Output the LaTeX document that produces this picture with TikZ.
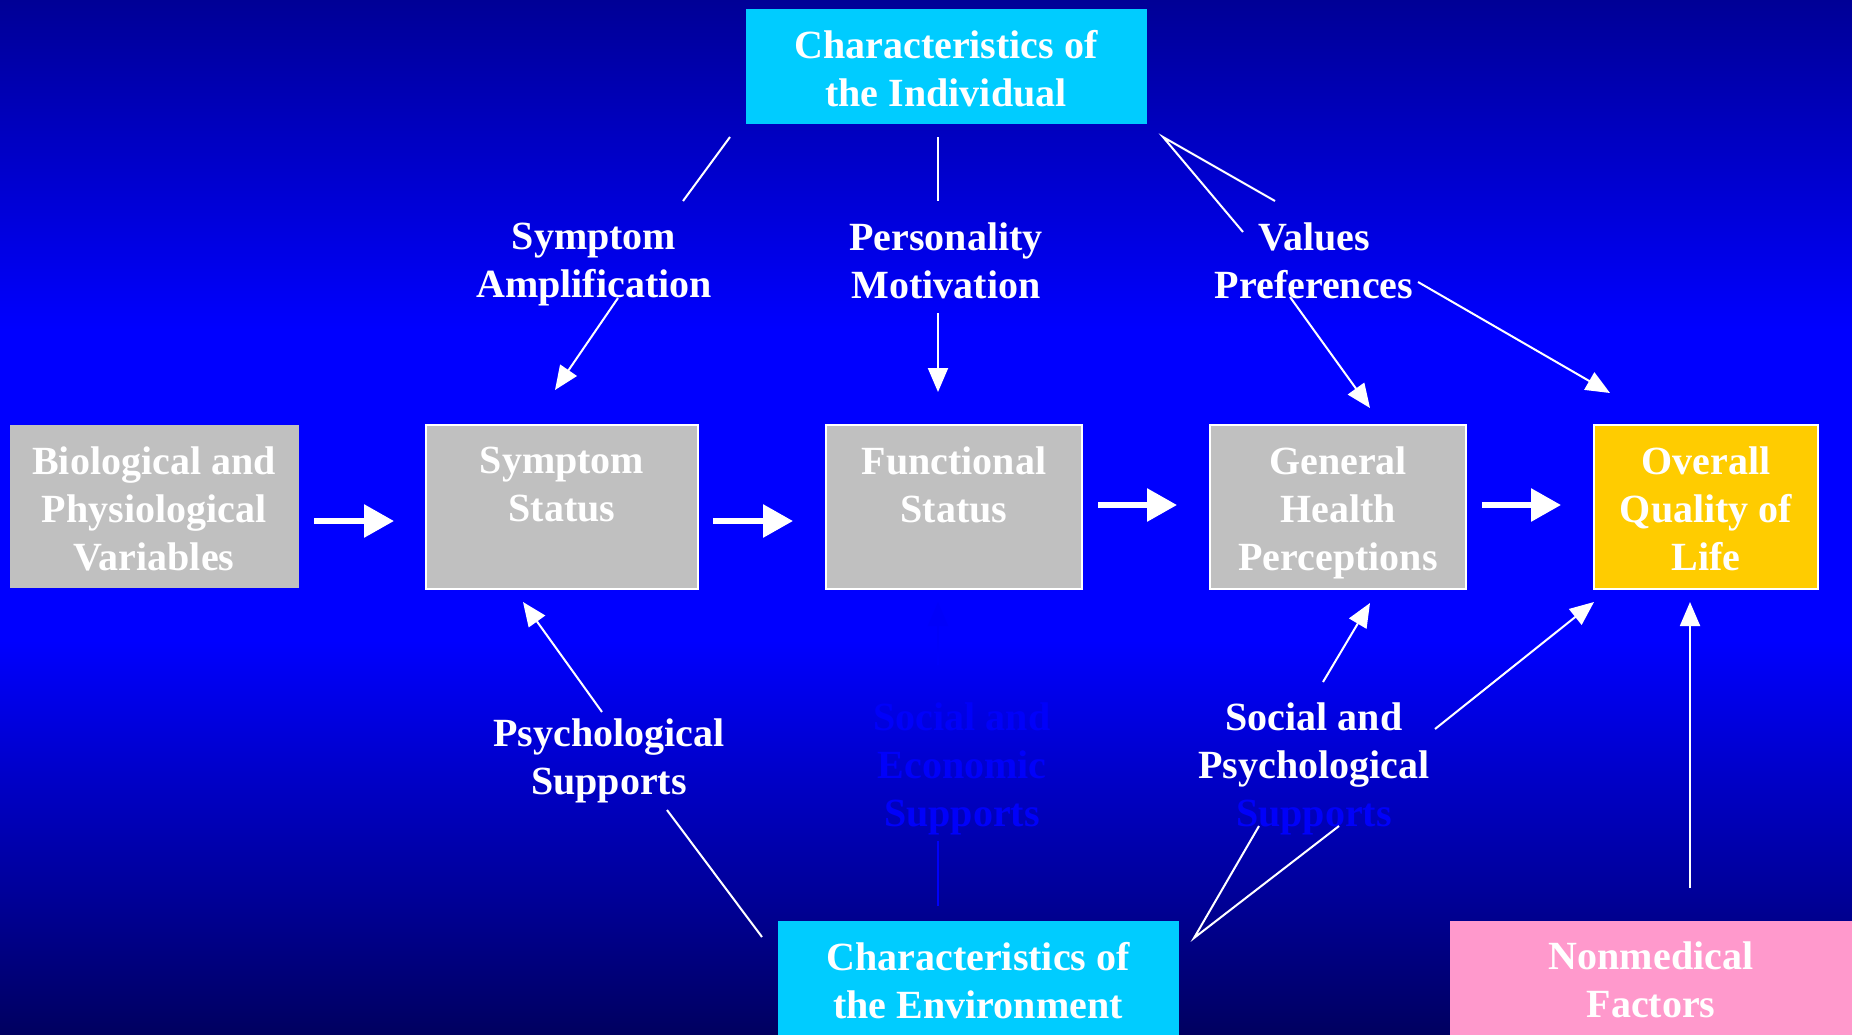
\documentclass[tikz,border=0pt]{standalone}
\usepackage{fontspec}
\setmainfont{Liberation Serif}
\usetikzlibrary{arrows.meta}
\definecolor{bgtop}{RGB}{0,0,150}
\definecolor{bgmid}{RGB}{0,0,255}
\definecolor{bgbot}{RGB}{0,0,96}
\definecolor{boxgray}{RGB}{192,192,192}
\definecolor{boxcyan}{RGB}{0,204,255}
\definecolor{boxyellow}{RGB}{255,204,0}
\definecolor{boxpink}{RGB}{255,153,204}
\definecolor{hidden}{RGB}{0,0,250}
\begin{document}
\begin{tikzpicture}[x=1pt,y=-1pt,
  lbl/.style={text=white,font=\fontsize{40}{48}\selectfont\bfseries,align=center,inner sep=0pt,anchor=north},
  boxbase/.style={anchor=north west,inner sep=0pt,outer sep=0pt},
  graybox/.style={boxbase,fill=boxgray,draw=white,line width=2pt,minimum height=164pt},
  bigarrow/.style={white,line width=6pt,-{Triangle[width=32pt,length=30pt]}},
  thinline/.style={white,line width=2pt},
  thinarrow/.style={thinline,-{Triangle[width=20pt,length=24pt]}},
]
\useasboundingbox (0,0) rectangle (1852,1034);
% background
\shade[top color=bgtop,bottom color=bgmid] (0,0) rectangle (1852,330);
\fill[bgmid] (0,329) rectangle (1852,641);
\shade[top color=bgmid,bottom color=bgbot] (0,640) rectangle (1852,1034);

% boxes
\node[boxbase,fill=boxcyan,minimum width=401pt,minimum height=115pt] (indiv) at (746,9) {};
\node[boxbase,fill=boxcyan,minimum width=401pt,minimum height=120pt] (env) at (778,921) {};
\node[boxbase,fill=boxpink,minimum width=402pt,minimum height=120pt] (nonmed) at (1450,921) {};
\node[graybox,draw=none,minimum width=289pt,minimum height=163pt] (bio) at (10,425) {};
\node[graybox,minimum width=272pt] (sym) at (426,425) {};
\node[graybox,minimum width=256pt] (fun) at (826,425) {};
\node[graybox,minimum width=256pt] (gen) at (1210,425) {};
\node[graybox,fill=boxyellow,minimum width=224pt] (qol) at (1594,425) {};

% box texts
\node[lbl] (indivT) at (946,30) {Characteristics of\\the Individual};
\node[lbl] (envT) at (978,942) {Characteristics of\\the Environment};
\node[lbl] (nonmedT) at (1651,942) {Nonmedical\\Factors};
\node[lbl] (bioT) at (154,447) {Biological and\\Physiological\\Variables};
\node[lbl] (symT) at (562,447) {Symptom\\Status};
\node[lbl] (funT) at (954,447) {Functional\\Status};
\node[lbl] (genT) at (1338,447) {General\\Health\\Perceptions};
\node[lbl] (qolT) at (1706,447) {Overall\\Quality of\\Life};

% labels
\node[lbl] (ampl) at (594,223) {Symptom\\Amplification};
\node[lbl] (pers) at (946,223) {Personality\\Motivation};
\node[lbl] (vals) at (1314,223) {Values\\Preferences};
\node[lbl] (psup) at (609,719) {Psychological\\Supports};
\node[lbl,text=hidden] (sesup) at (962,703) {Social and\\Economic\\Supports};
\node[lbl] (spsup) at (1314,703) {Social and\\Psychological\\\textcolor{hidden}{Supports}};

% big arrows
\coordinate (a1s) at (314,521); \coordinate (a1e) at (394,521);
\coordinate (a2s) at (713,521); \coordinate (a2e) at (793,521);
\coordinate (a3s) at (1098,505); \coordinate (a3e) at (1177,505);
\coordinate (a4s) at (1482,505); \coordinate (a4e) at (1561,505);
\draw[bigarrow] (a1s) -- (a1e);
\draw[bigarrow] (a2s) -- (a2e);
\draw[bigarrow] (a3s) -- (a3e);
\draw[bigarrow] (a4s) -- (a4e);

% top connectors
\coordinate (iA1) at (730,137); \coordinate (iA2) at (683,201);
\coordinate (saA) at (618,298); \coordinate (saB) at (555,390);
\draw[thinline] (iA1) -- (iA2);
\draw[thinarrow] (saA) -- (saB);
\coordinate (iP1) at (938,137); \coordinate (iP2) at (938,201);
\coordinate (pmA) at (938,313); \coordinate (pmB) at (938,392);
\draw[thinline] (iP1) -- (iP2);
\draw[thinarrow] (pmA) -- (pmB);
\coordinate (iV) at (1163,137); \coordinate (iV1) at (1275,201); \coordinate (iV2) at (1243,232);
\draw[thinline] (iV1) -- (iV) -- (iV2);
\coordinate (vpA) at (1290,297); \coordinate (vpB) at (1370,408);
\coordinate (vpC) at (1418,282); \coordinate (vpD) at (1610,393);
\draw[thinarrow] (vpA) -- (vpB);
\draw[thinarrow] (vpC) -- (vpD);

% bottom connectors
\coordinate (psA) at (602,712); \coordinate (psB) at (523,602);
\coordinate (psC) at (667,810); \coordinate (psD) at (762,937);
\draw[thinarrow] (psA) -- (psB);
\draw[thinline] (psC) -- (psD);
\coordinate (seA) at (938,665); \coordinate (seB) at (938,602);
\coordinate (seC) at (938,841); \coordinate (seD) at (938,906);
\draw[thinarrow,draw=hidden,fill=hidden] (seA) -- (seB);
\draw[thinline,draw=hidden] (seC) -- (seD);
\coordinate (spA) at (1323,682); \coordinate (spB) at (1370,603);
\coordinate (spC) at (1435,729); \coordinate (spD) at (1594,602);
\draw[thinarrow] (spA) -- (spB);
\draw[thinarrow] (spC) -- (spD);
\coordinate (spE) at (1194,938); \coordinate (spF) at (1259,826); \coordinate (spG) at (1339,826);
\draw[thinline] (spF) -- (spE) -- (spG);
\coordinate (nmA) at (1690,888); \coordinate (nmB) at (1690,602);
\draw[thinarrow] (nmA) -- (nmB);
\end{tikzpicture}
\end{document}
